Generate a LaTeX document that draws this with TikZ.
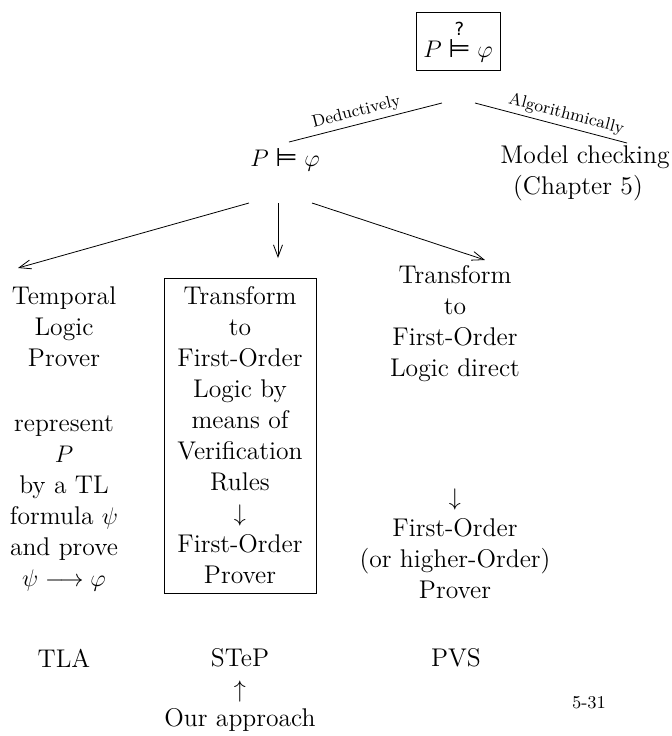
\documentclass[tikz,border=0pt]{standalone}
\usepackage{amsmath}
\usepackage{fontspec}
\usetikzlibrary{arrows.meta}
\newfontfamily\dejavu{DejaVu Sans}
\newcommand{\mymodels}{\mathrel{\text{\dejavu ⊨}}}
\newcommand{\myq}{\text{\dejavu\fontsize{9}{9}\selectfont ?}}
\begin{document}
\begin{tikzpicture}[x=0.5pt,y=-0.5pt,
  every node/.style={font=\fontsize{12.8}{15.5}\selectfont, inner sep=0pt},
  col/.style={align=center},
  lbl/.style={font=\fontsize{8.5}{10}\selectfont, sloped, above, inner sep=2pt},
  arr/.style={-{Straight Barb[length=6pt,width=4.5pt]}}]
\useasboundingbox (0,0) rectangle (672,736);

\node[draw, minimum width=42pt, minimum height=29pt] (goal) at (458,41) {$P \overset{\myq}{\mymodels} \varphi$};
\node (ded) at (285,160) {$P \mymodels \varphi$};
\node (mc) at (585,157) {Model checking};
\node (ch) at (578,188) {(Chapter 5)};

\coordinate (dl1) at (289,142); \coordinate (dl2) at (442,103);
\draw (dl1) -- node[lbl, pos=0.46] {Deductively} (dl2);
\coordinate (al1) at (475,103); \coordinate (al2) at (627,143);
\draw (al1) -- node[lbl, pos=0.58] {Algorithmically} (al2);

\coordinate (s1) at (249,203); \coordinate (e1) at (18,268);
\coordinate (s2) at (278,203); \coordinate (e2) at (278,258);
\coordinate (s3) at (312,203); \coordinate (e3) at (485,260);
\draw[arr] (s1) -- (e1);
\draw[arr] (s2) -- (e2);
\draw[arr] (s3) -- (e3);

\node[col] (tlp) at (64,327) {Temporal\\Logic\\Prover};
\node[col] (rep) at (64,503) {represent\\$P$\\by a TL\\formula $\psi$\\and prove\\$\psi\longrightarrow\varphi$};
\node[col, draw, minimum width=76pt, minimum height=157.5pt] (box) at (240,435.5) {Transform\\to\\First-Order\\Logic by\\means of\\Verification\\Rules\\$\downarrow$\\First-Order\\Prover};
\node[col] (tfd) at (455,324) {Transform\\to\\First-Order\\Logic direct};
\node[col] (fop) at (455,543.5) {$\downarrow$\\First-Order\\(or higher-Order)\\Prover};

\node (tla) at (64,658) {TLA};
\node (stepn) at (240,658) {STeP};
\node (up) at (240,691) {$\uparrow$};
\node (our) at (240,720) {Our approach};
\node (pvs) at (456,658) {PVS};
\node[font=\fontsize{9}{11}\selectfont] (pg) at (589,703) {5-31};
\end{tikzpicture}
\end{document}
